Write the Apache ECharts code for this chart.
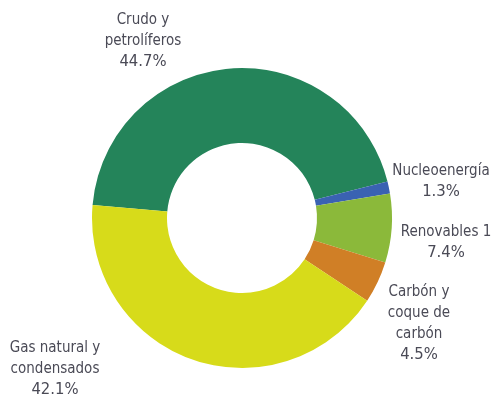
<!DOCTYPE html>
<html>
<head>
<meta charset="utf-8">
<script src="https://cdn.jsdelivr.net/npm/echarts@6/dist/echarts.min.js"></script>
<style>
html,body{margin:0;padding:0;background:#fff;}
#chart{width:492px;height:397px;}
</style>
</head>
<body>
<div id="chart"></div>
<script>
// Data
var categories = ['Crudo y\npetrolíferos', 'Nucleoenergía', 'Renovables 1', 'Carbón y\ncoque de\ncarbón', 'Gas natural y\ncondensados'];
var shares = [44.7, 1.3, 7.4, 4.5, 42.1];

// Styles / layout
var colors = ['#24845a', '#3a62b2', '#8bb93a', '#d07f26', '#d7db1a'];
var labelPos = [[143, 9.5], [441, 160.5], [446, 221.5], [419, 281.5], [55, 337.5]];
var fontFam = '"Liberation Sans Narrow", "DejaVu Sans Condensed", sans-serif';

var chart = echarts.init(document.getElementById('chart'));
chart.setOption({
  animation: false,
  series: [{
    type: 'pie',
    center: [242, 218],
    radius: [75, 150],
    startAngle: 175,
    clockwise: true,
    avoidLabelOverlap: false,
    data: categories.map(function (c, i) {
      return { name: c, value: shares[i], itemStyle: { color: colors[i] } };
    }),
    label: {
      show: true,
      formatter: function (p) { return p.name + '\n{pct|' + p.value.toFixed(1) + '%}'; },
      fontFamily: fontFam,
      fontSize: 15,
      lineHeight: 21,
      color: '#4a4a56',
      align: 'center',
      rich: {
        pct: { fontFamily: fontFam, fontSize: 16.5, lineHeight: 21, color: '#4a4a56' }
      }
    },
    labelLine: { show: false },
    labelLayout: function (params) {
      var p = labelPos[params.dataIndex];
      return { x: p[0], y: p[1], align: 'center', verticalAlign: 'top' };
    }
  }]
});
</script>
</body>
</html>
